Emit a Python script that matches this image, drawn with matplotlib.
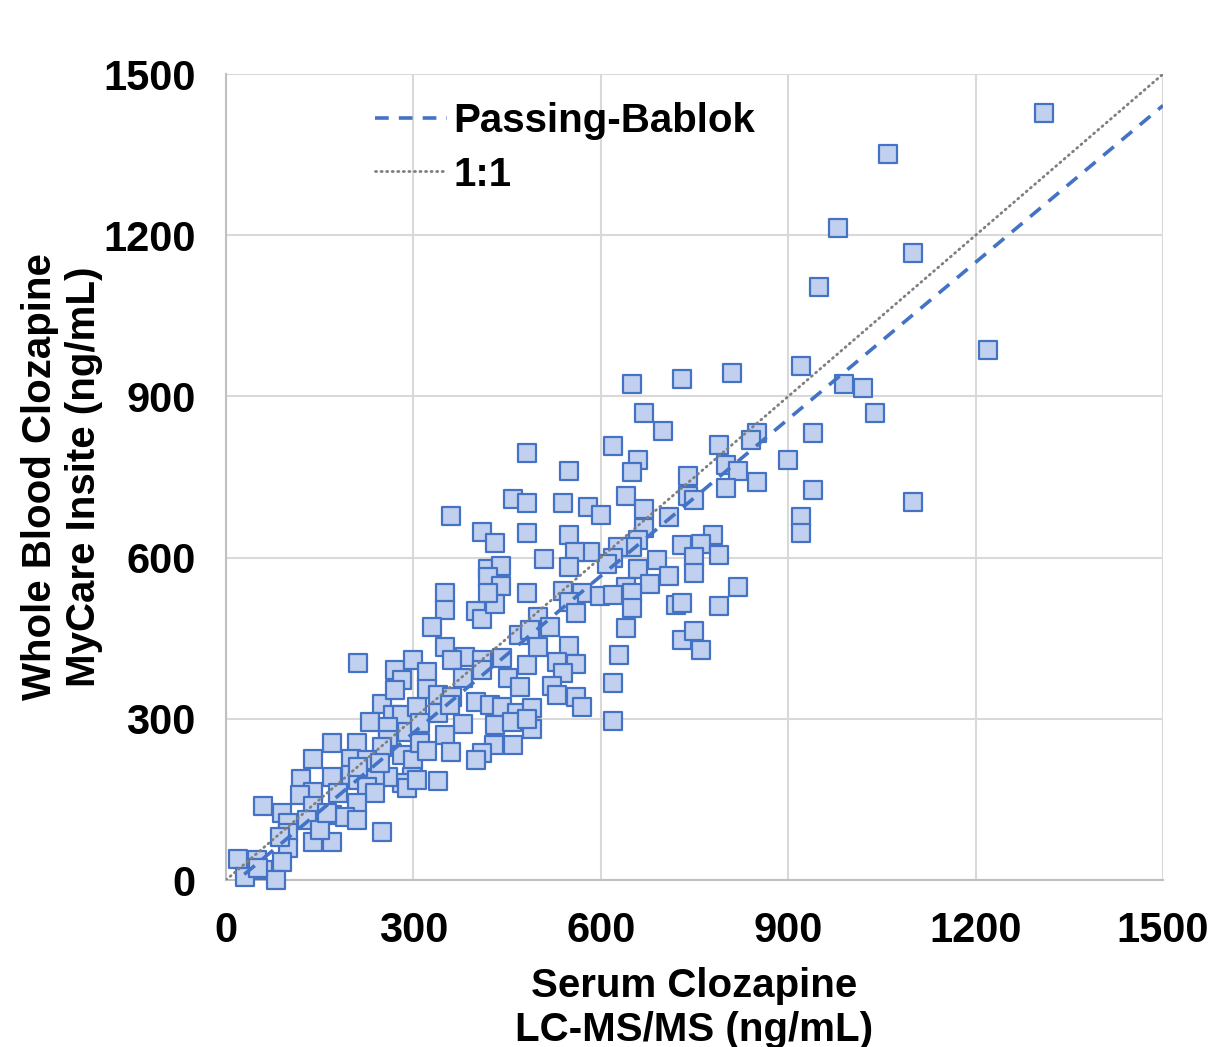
import matplotlib
matplotlib.use("Agg")
import matplotlib.pyplot as plt
import numpy as np

# Serum (x) and whole blood (y) clozapine, ng/mL, grouped by region of the plot
serum_low = [
    250, 267, 282, 306, 230, 259, 290, 259, 170, 210, 250, 139, 200, 226, 282, 299, 298, 282, 259, 170,
    120, 200, 211, 238, 226, 179, 238, 210, 139, 118, 139, 59, 90, 99, 130, 170, 190, 210, 99, 99,
    139, 170, 250, 86, 90, 19, 50, 59, 30, 80, 51, 150, 162, 211, 290, 306, 339, 310, 246,
]
blood_low = [
    328, 307, 307, 322, 294, 285, 276, 261, 255, 255, 248, 225, 225, 224, 233, 224, 192, 181, 192, 192,
    188, 196, 186, 186, 173, 162, 162, 143, 164, 158, 138, 138, 125, 106, 112, 121, 117, 112, 88, 60,
    71, 71, 89, 80, 34, 39, 37, 19, 6, 0, 22, 93, 125, 211, 171, 186, 184, 292, 218,
]
serum_mid = [
    459, 360, 410, 430, 419, 440, 419, 440, 350, 350, 400, 410, 430, 330, 350, 382, 410, 362, 442, 469,
    410, 379, 451, 211, 270, 299, 322, 282, 270, 322, 339, 362, 400, 422, 442, 339, 379, 430,
    466, 458, 310, 350, 360, 322, 429, 459, 410, 400, 470, 358, 419,
]
blood_mid = [
    710, 678, 648, 628, 579, 585, 564, 548, 535, 503, 501, 486, 514, 471, 434, 415, 410, 410, 414, 456,
    391, 376, 376, 404, 391, 410, 388, 373, 354, 356, 345, 341, 332, 326, 322, 311, 291, 289,
    311, 294, 255, 270, 238, 240, 252, 252, 237, 224, 360, 326, 535,
]
serum_high = [
    650, 730, 810, 920, 669, 699, 619, 659, 650, 549, 482, 789, 850, 840, 939, 899, 800, 819, 800, 850,
    939, 739, 739, 749, 640, 539, 579, 600, 482, 669, 709, 669, 659, 482, 549, 920, 920, 779, 730, 760,
    789, 749, 749, 650, 627, 619, 610, 582, 558, 549, 690, 659, 709, 678, 640, 509, 539, 570, 598, 619,
    650, 650, 549, 560, 482, 819, 720, 730, 789, 640, 730, 749, 760, 629, 619, 619, 549, 530, 560, 539,
    482, 522, 530, 560, 570, 490, 490, 482, 499, 518, 486, 499,
]
blood_high = [
    924, 932, 943, 956, 870, 835, 807, 781, 760, 762, 794, 809, 831, 818, 831, 781, 773, 762, 730, 741,
    725, 751, 714, 708, 714, 702, 695, 680, 702, 691, 676, 656, 633, 646, 643, 676, 646, 643, 624, 626,
    605, 602, 572, 620, 620, 600, 589, 611, 611, 583, 596, 579, 566, 551, 546, 598, 537, 535, 529, 531,
    535, 507, 518, 496, 535, 546, 512, 516, 510, 469, 447, 464, 428, 419, 367, 296, 436, 406, 402, 386,
    401, 361, 345, 341, 322, 320, 281, 300, 490, 471, 466, 434,
]
serum_top = [1309, 1060, 980, 1100, 949, 1220, 989, 1020, 1039, 1100]
blood_top = [1427, 1351, 1213, 1166, 1103, 987, 924, 915, 870, 704]

serum = serum_low + serum_mid + serum_high + serum_top
whole_blood = blood_low + blood_mid + blood_high + blood_top

pb_slope = 0.973
pb_intercept = -18.0
ticks = [0, 300, 600, 900, 1200, 1500]

FONT = ["Liberation Sans", "DejaVu Sans"]
plt.rcParams["font.family"] = FONT
plt.rcParams["font.weight"] = "bold"

fig = plt.figure(figsize=(12.11, 10.47), dpi=100)
ax = fig.add_axes([0.1866, 0.1595, 0.9604 - 0.1866, 0.9293 - 0.1595])

ax.scatter(serum, whole_blood, marker="s", s=12.8 ** 2, facecolor="#c0d0ee",
           edgecolor="#4472c4", linewidth=1.6, zorder=3, clip_on=False)

xl = np.array([0, 1500])
ax.plot(xl, pb_slope * xl + pb_intercept, color="#4472c4", lw=2.6,
        linestyle=(0, (3.8, 2.8)), zorder=4, label="Passing-Bablok")
ax.plot(xl, xl, color="#7f7f7f", lw=2.0, linestyle=(0, (0.4, 1.6)),
        dash_capstyle="round", zorder=4, label="1:1")

ax.set_xlim(0, 1500)
ax.set_ylim(0, 1500)
ax.set_xticks(ticks)
ax.set_yticks(ticks)
ax.tick_params(length=0, labelsize=30)
ax.tick_params(axis="x", pad=22)
ax.tick_params(axis="y", pad=22)
for lab in ax.get_xticklabels() + ax.get_yticklabels():
    lab.set_fontweight("bold")

ax.grid(True, color="#d9d9d9", lw=1.5)
ax.set_axisbelow(True)
for s in ["top", "right"]:
    ax.spines[s].set_visible(False)
for s in ["left", "bottom"]:
    ax.spines[s].set_color("#bfbfbf")
    ax.spines[s].set_linewidth(1.5)

ax.set_xlabel("Serum Clozapine\nLC-MS/MS (ng/mL)", fontsize=29, fontweight="bold",
              labelpad=12, linespacing=1.2)
ax.set_ylabel("Whole Blood Clozapine\nMyCare Insite (ng/mL)", fontsize=29, fontweight="bold",
              labelpad=0, linespacing=1.2)

leg = ax.legend(loc="upper left", bbox_to_anchor=(0.159, 0.965), frameon=False,
                prop={"size": 29, "weight": "bold"}, handlelength=1.8,
                handletextpad=0.15, labelspacing=0.38, borderpad=0, borderaxespad=0)

fig.savefig("out.png", dpi=100)
